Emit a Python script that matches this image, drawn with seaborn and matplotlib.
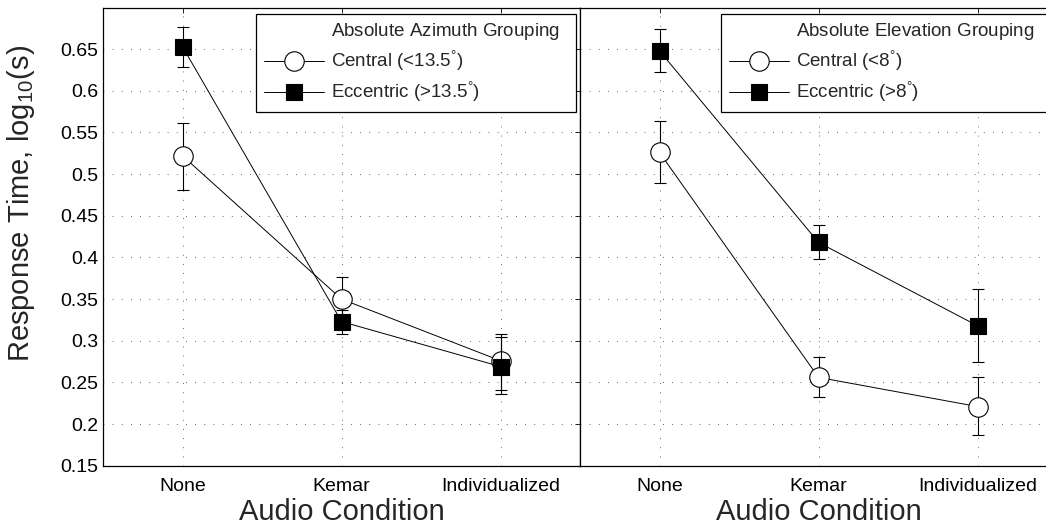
import numpy as np
import pandas as pd
import matplotlib
matplotlib.use("Agg")
import matplotlib.pyplot as plt
from matplotlib.lines import Line2D
import seaborn as sns

# values (log10 response time)
conditions = ["None", "Kemar", "Individualized"]

az_central = [0.522, 0.350, 0.276]
az_central_lo = [0.481, 0.324, 0.241]
az_central_hi = [0.561, 0.376, 0.308]
az_eccentric = [0.653, 0.323, 0.269]
az_eccentric_lo = [0.628, 0.308, 0.236]
az_eccentric_hi = [0.676, 0.337, 0.305]

el_central = [0.526, 0.256, 0.221]
el_central_lo = [0.489, 0.232, 0.187]
el_central_hi = [0.564, 0.280, 0.256]
el_eccentric = [0.648, 0.418, 0.318]
el_eccentric_lo = [0.622, 0.398, 0.274]
el_eccentric_hi = [0.674, 0.439, 0.362]

az_labels = ["Absolute Azimuth Grouping$^{\\,}$  ", "Central (<13.5$^{\\degree}$)", "Eccentric (>13.5$^{\\degree}$)"]
el_labels = ["Absolute Elevation Grouping$^{\\,}$  ", "Central (<8$^{\\degree}$)", "Eccentric (>8$^{\\degree}$)"]

sns.set_style("white")
plt.rcParams["font.family"] = ["Liberation Sans", "DejaVu Sans"]
plt.rcParams["mathtext.fontset"] = "custom"
plt.rcParams["mathtext.rm"] = "Liberation Sans"
plt.rcParams["mathtext.it"] = "Liberation Sans"

fig = plt.figure(figsize=(10.46, 5.27), dpi=100)
ax_l = fig.add_axes([103 / 1046, 1 - 465.7 / 527, 477 / 1046, 458.2 / 527])
ax_r = fig.add_axes([580 / 1046, 1 - 465.7 / 527, 477 / 1046, 458.2 / 527])

styles = {
    "central": dict(marker="o", markersize=14, markerfacecolor="white"),
    "eccentric": dict(marker="s", markersize=11.5, markerfacecolor="black"),
}


def draw_group(ax, y, lo, hi, kind, z):
    y = np.array(y)
    df = pd.DataFrame({"cond": conditions, "rt": y})
    ax.errorbar(conditions, y, yerr=[y - np.array(lo), np.array(hi) - y],
                fmt="none", ecolor="black", elinewidth=0.8, capsize=4.5,
                capthick=0.8, zorder=z)
    sns.lineplot(data=df, x="cond", y="rt", ax=ax, color="black", lw=0.7,
                 markeredgecolor="black", markeredgewidth=0.8, sort=False,
                 errorbar=None, zorder=z + 1, **styles[kind])


def legend_handles():
    blank = Line2D([], [], linestyle="none", marker="none")
    c = Line2D([], [], color="black", lw=0.7, markeredgecolor="black",
               markeredgewidth=0.8, **styles["central"])
    e = Line2D([], [], color="black", lw=0.7, markeredgecolor="black",
               markeredgewidth=0.8, **styles["eccentric"])
    return [blank, c, e]


panels = [
    (ax_l, az_central, az_central_lo, az_central_hi,
     az_eccentric, az_eccentric_lo, az_eccentric_hi, az_labels, (256 - 103) / 477),
    (ax_r, el_central, el_central_lo, el_central_hi,
     el_eccentric, el_eccentric_lo, el_eccentric_hi, el_labels, (721 - 580) / 477),
]

for ax, c, clo, chi, e, elo, ehi, labels, lx in panels:
    draw_group(ax, c, clo, chi, "central", 2)
    draw_group(ax, e, elo, ehi, "eccentric", 4)

    ax.set_xlim(-0.5, 2.5)
    ax.set_ylim(0.15, 0.70)
    ax.set_yticks(np.arange(0.15, 0.66, 0.05))
    ax.set_yticklabels(["0.15", "0.2", "0.25", "0.3", "0.35", "0.4",
                        "0.45", "0.5", "0.55", "0.6", "0.65"])
    ax.grid(True, linestyle=(0, (1, 10)), color="0.2", lw=0.6)
    ax.set_axisbelow(True)
    for sp in ax.spines.values():
        sp.set_visible(True)
        sp.set_color("black")
        sp.set_linewidth(0.9)
    ax.tick_params(direction="in", length=3.5, width=0.6, top=True, right=True,
                   labelsize=14, colors="black")
    ax.tick_params(axis="x", pad=8.5)
    ax.tick_params(axis="y", pad=3.5)
    ax.set_xlabel("Audio Condition", fontsize=21, labelpad=2.5)

    leg = ax.legend(legend_handles(), labels, loc="upper left",
                    bbox_to_anchor=(lx, (465.7 - 14) / 458.2), borderaxespad=0,
                    fontsize=13.5, frameon=True, fancybox=False, framealpha=1,
                    edgecolor="black", handlelength=3.2, handletextpad=0.4,
                    borderpad=0.4, labelspacing=0.36, numpoints=1)
    leg.get_frame().set_linewidth(0.9)
    leg.set_zorder(10)

ax_l.set_ylabel("Response Time, log$_{10}$(s)", fontsize=21)
ax_l.yaxis.set_label_coords(-0.138, 0.573)
ax_r.tick_params(axis="y", labelleft=False)
ax_r.set_ylabel("")

fig.savefig("out.png", dpi=100)
